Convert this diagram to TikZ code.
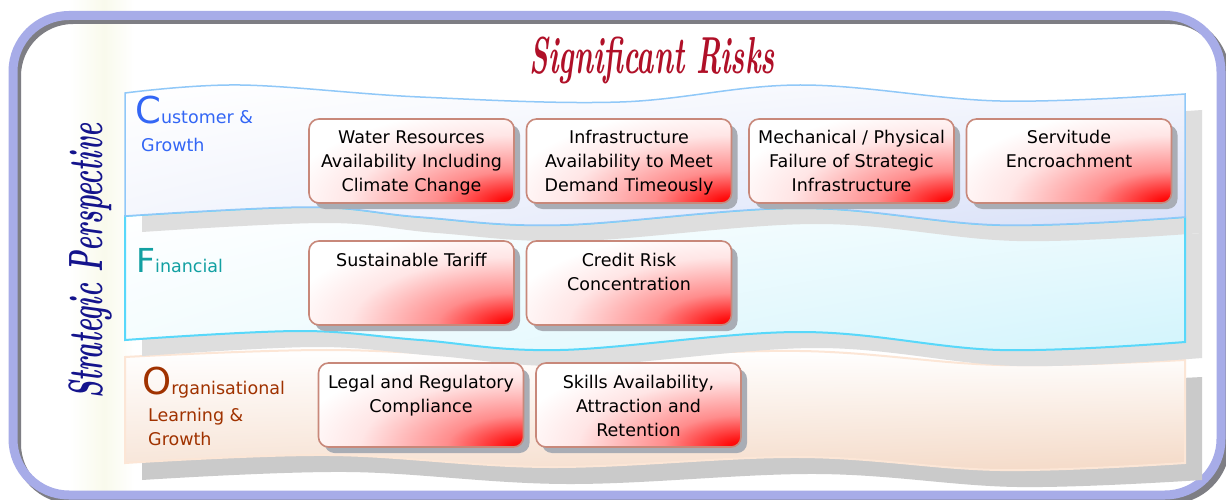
\documentclass[tikz,border=0pt]{standalone}
\usepackage{fontspec}
\usetikzlibrary{shadings}
\newfontfamily\labelfont{DejaVu Sans}

\definecolor{framecol}{HTML}{A7ACE8}
\definecolor{frameshade}{HTML}{7E7E84}
\definecolor{glowcol}{HTML}{F9FAEC}
\definecolor{custline}{HTML}{90C8F8}
\definecolor{custfill}{HTML}{D8E0F8}
\definecolor{finline}{HTML}{58D8FA}
\definecolor{finfill}{HTML}{D2F4FC}
\definecolor{orgline}{HTML}{FCE6D6}
\definecolor{orgfill}{HTML}{F4D9C6}
\definecolor{shadeA}{HTML}{DEDEDE}
\definecolor{shadeB}{HTML}{CACACA}
\definecolor{boxline}{HTML}{C8887A}
\definecolor{boxshade}{HTML}{A9ADB5}
\definecolor{custtext}{HTML}{3366F5}
\definecolor{fintext}{HTML}{12A0A2}
\definecolor{orgtext}{HTML}{A03200}
\definecolor{titletext}{HTML}{B01028}
\definecolor{perstext}{HTML}{14148C}

% red glow rising from the lower right corner of each risk box
% (25bp is the edge of the shaded path)
\pgfdeclareradialshading{riskglow}{\pgfpoint{0bp}{0bp}}{%
  color(0bp)=(red); color(1.5bp)=(red!95!white); color(8bp)=(red!45!white);
  color(17bp)=(red!10!white); color(24bp)=(white); color(50bp)=(white)}

% wavy outlines of the three perspective bands
\def\bandone{plot[smooth,tension=0.6] coordinates {(125,93) (240,85) (420,97) (620,102) (800,85) (1000,101) (1185,94)}
  -- plot[smooth,tension=0.6] coordinates {(1185,217) (1000,225) (800,208) (560,225) (420,217) (310,207) (125,216)} -- cycle}
\def\bandtwo{plot[smooth,tension=0.6] coordinates {(125,216) (310,207) (420,217) (560,225) (800,208) (1000,225) (1185,217)}
  -- plot[smooth,tension=0.6] coordinates {(1185,342) (1000,350) (800,332) (560,350) (420,340) (300,331) (125,340)} -- cycle}
\def\bandthree{plot[smooth,tension=0.6] coordinates {(125,357) (330,350) (550,358) (800,351) (1000,365) (1185,360)}
  -- plot[smooth,tension=0.6] coordinates {(1185,463) (1000,470) (800,457) (550,467) (330,455) (125,463)} -- cycle}

\tikzset{
  riskbox/.style={draw=boxline, line width=1.6pt, rounded corners=10pt, fill=white,
    minimum width=205pt, minimum height=84pt, inner sep=0pt,
    font=\labelfont\fontsize{17.5}{24}\selectfont,
    path picture={\shade[shading=riskglow] (path picture bounding box.south east)
      ellipse [x radius=240pt, y radius=100pt];}},
  boxshadow/.style={fill=boxshade, rounded corners=10pt,
    minimum width=205pt, minimum height=84pt, inner sep=0pt},
  lanelabel/.style={anchor=base west, inner sep=0pt, font=\labelfont\fontsize{17.5}{21}\selectfont}
}
\newcommand\risktext[1]{\parbox[c][84pt][t]{200pt}{\centering\rule{0pt}{25pt}#1}}

\begin{document}
\begin{tikzpicture}[x=1pt,y=-1pt]
\useasboundingbox (0,0) rectangle (1226,500);
\fill[white] (0,0) rectangle (1226,500);

% faint glow behind the side title
\shade[left color=white, right color=glowcol] (70,0) rectangle (104,500);
\shade[left color=glowcol, right color=white] (104,0) rectangle (134,500);

% outer frame with its shadow
\draw[frameshade, line width=8pt, rounded corners=56pt] (17,20) rectangle (1226,500);
\draw[framecol, line width=9pt, rounded corners=56pt] (13,15.5) rectangle (1221,495);

% organisational band
\fill[shadeB, shift={(17,17)}] \bandthree;
\shade[upper left=white, upper right=white, lower left=orgfill!70!white, lower right=orgfill,
       draw=orgline, line width=2pt] \bandthree;

% financial band
\fill[shadeA, shift={(17,16)}] \bandtwo;
\shade[upper left=white, upper right=finfill!40!white, lower left=finfill!25!white, lower right=finfill] \bandtwo;

% customer band
\fill[shadeA, shift={(17,16)}] \bandone;
\draw[finline, line width=2pt] \bandtwo;
\shade[upper left=white, upper right=custfill!30!white, lower left=custfill!30!white, lower right=custfill,
       draw=custline, line width=1.5pt] \bandone;

% titles
\node[font=\bfseries\itshape\fontsize{52}{52}\selectfont, text=titletext] (title) at (652,60)
  {\scalebox{0.56}[1]{Significant Risks}};
\node[font=\bfseries\itshape\fontsize{48}{48}\selectfont, text=perstext, rotate=90] (persp) at (90,261)
  {\scalebox{0.55}[1]{Strategic Perspective}};

% perspective labels
\node[lanelabel, text=custtext] (lc1) at (135,124) {{\fontsize{37}{37}\selectfont C}ustomer \&};
\node[lanelabel, text=custtext] (lc2) at (141,152) {Growth};
\node[lanelabel, text=fintext] (lf1) at (136,272) {{\fontsize{33}{33}\selectfont F}inancial};
\node[lanelabel, text=orgtext] (lo1) at (142,394) {{\fontsize{37}{37}\selectfont O}rganisational};
\node[lanelabel, text=orgtext] (lo2) at (148,421) {Learning \&};
\node[lanelabel, text=orgtext] (lo3) at (148,445) {Growth};

% risk boxes: shadows
\node[boxshadow] (s1) at (417.5,167) {};
\node[boxshadow] (s2) at (635,167) {};
\node[boxshadow] (s3) at (857.5,167) {};
\node[boxshadow] (s4) at (1075,167) {};
\node[boxshadow] (s5) at (417.5,289) {};
\node[boxshadow] (s6) at (635,289) {};
\node[boxshadow] (s7) at (427,411) {};
\node[boxshadow] (s8) at (644.5,411) {};

% risk boxes
\node[riskbox] (b1) at (411.5,161) {\risktext{Water Resources\\Availability Including\\Climate Change}};
\node[riskbox] (b2) at (629,161) {\risktext{Infrastructure\\Availability to Meet\\Demand Timeously}};
\node[riskbox] (b3) at (851.5,161) {\risktext{Mechanical / Physical\\Failure of Strategic\\Infrastructure}};
\node[riskbox] (b4) at (1069,161) {\risktext{Servitude\\Encroachment}};
\node[riskbox] (b5) at (411.5,283) {\risktext{Sustainable Tariff}};
\node[riskbox] (b6) at (629,283) {\risktext{Credit Risk\\Concentration}};
\node[riskbox] (b7) at (421,405) {\risktext{Legal and Regulatory\\Compliance}};
\node[riskbox] (b8) at (638.5,405) {\risktext{Skills Availability,\\Attraction and\\Retention}};
\end{tikzpicture}
\end{document}
